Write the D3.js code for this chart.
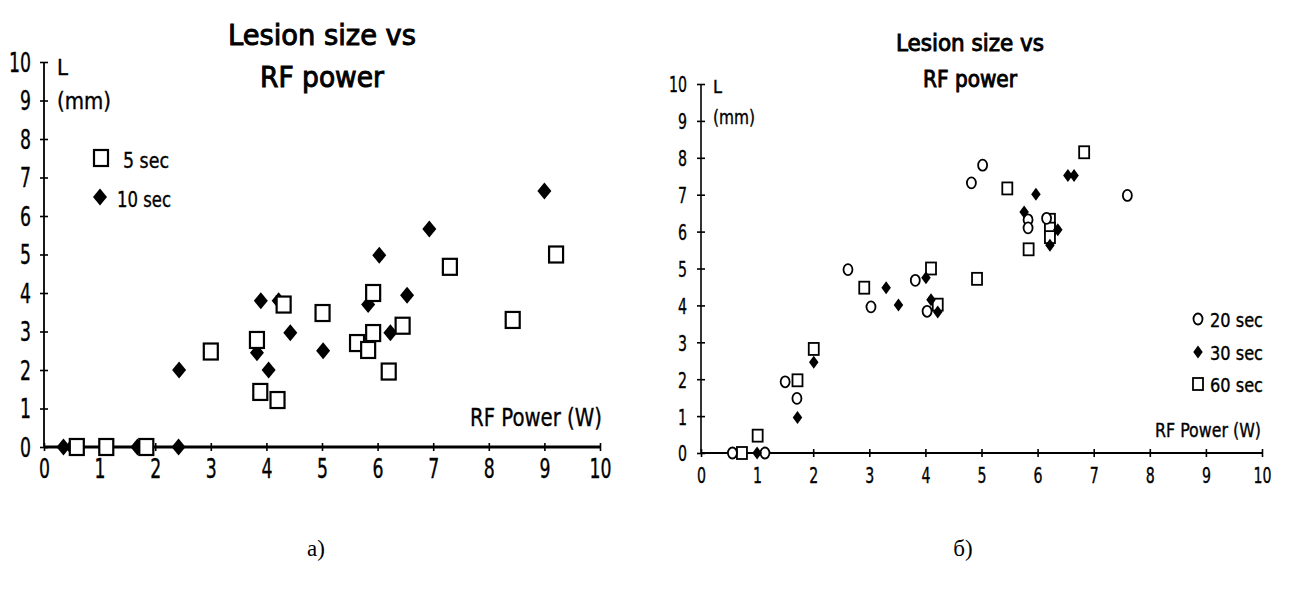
<!DOCTYPE html>
<html lang="ru">
<head>
<meta charset="UTF-8" />
<title>Lesion size vs RF power</title>
<script src="https://cdn.jsdelivr.net/npm/d3@7"></script>
<style>
    body { margin: 0; background: #fff; }
    svg text { font-family: 'DejaVu Sans Condensed', 'DejaVu Sans', sans-serif; font-stretch: condensed; fill: #000; stroke: #000; stroke-width: 0.35px; }
    svg text.title { stroke-width: 0.9px; }
    svg text.caption { font-family: 'Liberation Serif', 'DejaVu Serif', serif; font-stretch: normal; stroke-width: 0; }
</style>
</head>
<body>
<div id="chart"></div>
<script>
// ticks
const ticks = [0, 1, 2, 3, 4, 5, 6, 7, 8, 9, 10]

// panel a) : [power W, lesion mm]
const a5sec = [
    [0.59, 0], [1.12, 0], [1.84, 0], [3.0, 2.48], [3.83, 2.78], [3.89, 1.43], [4.2, 1.22],
    [4.31, 3.7], [5.01, 3.48], [5.63, 2.7], [5.83, 2.52], [5.92, 2.96], [5.92, 4.0],
    [6.2, 1.96], [6.45, 3.15], [7.3, 4.68], [8.43, 3.3], [9.21, 5.0],
]
const a10sec = [
    [0.35, 0], [0.5, 0], [1.68, 0], [2.42, 0], [2.43, 2.0], [3.83, 2.45], [3.9, 3.8],
    [4.04, 2.0], [4.22, 3.8], [4.43, 2.97], [5.02, 2.5], [5.83, 3.7], [6.03, 4.98],
    [6.23, 2.97], [6.53, 3.94], [6.93, 5.66], [9.0, 6.65],
]

// panel б)
const b20sec = [
    [0.56, 0], [1.14, 0], [1.5, 1.93], [1.71, 1.48], [2.62, 4.97], [3.03, 3.96], [3.82, 4.68],
    [4.03, 3.84], [4.82, 7.32], [5.02, 7.8], [5.83, 6.32], [5.83, 6.1], [6.16, 6.36], [7.6, 6.98],
]
const b30sec = [
    [1.0, 0], [1.72, 0.96], [2.01, 2.46], [3.3, 4.48], [3.52, 4.01], [4.01, 4.75], [4.1, 4.15],
    [4.22, 3.82], [5.76, 6.53], [5.97, 7.01], [6.22, 5.63], [6.36, 6.05], [6.54, 7.52], [6.65, 7.52],
]
const b60sec = [
    [0.73, 0], [1.01, 0.47], [1.72, 1.97], [2.01, 2.82], [2.91, 4.48], [4.1, 5.0], [4.22, 4.02],
    [4.92, 4.72], [5.46, 7.17], [5.84, 5.52], [6.22, 6.32], [6.22, 6.08], [6.22, 5.85], [6.83, 8.15],
]

const svg = d3.select('#chart').append('svg').attr('width', 1291).attr('height', 589)

const label = (g, str, x, y, size, anchor, width) => {
    const t = g.append('text').attr('x', x).attr('y', y).attr('font-size', size).attr('text-anchor', anchor).text(str)
    if (width) t.attr('textLength', width).attr('lengthAdjust', 'spacingAndGlyphs')
    return t
}

const drawMarks = (g, data, shape, x, y, m) => {
    const sel = g.append('g').selectAll('.m').data(data).enter()
    if (shape === 'square') {
        sel.append('rect')
            .attr('x', (d) => x(d[0]) - m.sqW / 2)
            .attr('y', (d) => y(d[1]) - m.sqH / 2)
            .attr('width', m.sqW)
            .attr('height', m.sqH)
            .attr('fill', '#fff')
            .attr('stroke', '#000')
            .attr('stroke-width', m.sw)
    } else if (shape === 'circle') {
        sel.append('ellipse')
            .attr('cx', (d) => x(d[0]))
            .attr('cy', (d) => y(d[1]))
            .attr('rx', m.cRx)
            .attr('ry', m.cRy)
            .attr('fill', '#fff')
            .attr('stroke', '#000')
            .attr('stroke-width', m.sw)
    } else {
        const s = m.dH / Math.SQRT2
        sel.append('path')
            .attr('d', d3.symbol(d3.symbolSquare, s * s)())
            .attr('transform', (d) => `translate(${x(d[0])},${y(d[1])}) scale(${m.dW / m.dH},1) rotate(45)`)
            .attr('fill', '#000')
    }
}

const drawPanel = (p) => {
    const g = svg.append('g')
    const x = d3.scaleLinear().domain([0, 10]).range([p.x0, p.x1])
    const y = d3.scaleLinear().domain([0, 10]).range([p.y0, p.y1])

    const xa = g.append('g').attr('transform', `translate(0,${p.y0})`)
        .call(d3.axisBottom(x).tickValues(ticks).tickSize(p.tick).tickPadding(p.xPad).tickFormat(d3.format('d')))
    xa.selectAll('.tick line').attr('y1', -p.tick).attr('stroke-width', 1.6)

    const ya = g.append('g').attr('transform', `translate(${p.x0},0)`)
        .call(d3.axisLeft(y).tickValues(ticks).tickSize(p.tick).tickPadding(p.yPad).tickFormat(d3.format('d')))
    ya.selectAll('.tick line').attr('x1', p.tick).attr('stroke-width', 1.6)

    xa.select('.domain').attr('d', `M${p.x0},0H${p.x1}`).attr('stroke-width', p.xw)
    ya.select('.domain').attr('d', `M0,${p.y0}V${p.y1}`).attr('stroke-width', p.yw)
    g.selectAll('.tick line, .domain').attr('stroke', '#000')
    g.selectAll('.tick text')
        .attr('font-size', p.fs)
        .attr('fill', '#000')
        .attr('textLength', (d) => String(d).length * p.digitW)
        .attr('lengthAdjust', 'spacingAndGlyphs')
    ya.selectAll('.tick text').attr('dy', '0.36em')

    p.series.forEach((s) => drawMarks(g, s.data, s.shape, x, y, p.marks))

    p.texts.forEach((t) => {
        const el = label(g, t[0], t[1], t[2], t[3], t[4], t[5])
        if (t[6]) el.attr('class', t[6])
    })
    p.legend.forEach((l) => {
        drawMarks(g, [[x.invert(l.x), y.invert(l.y)]], l.shape, x, y, p.marks)
    })
}

drawPanel({
    x0: 44, x1: 600, y0: 447, y1: 62, tick: 4, xPad: 9, yPad: 9, fs: 26, digitW: 11, xw: 3.2, yw: 1.8,
    marks: { sqW: 14, sqH: 16, sw: 2.2, dW: 14, dH: 17 },
    series: [
        { data: a10sec, shape: 'diamond' },
        { data: a5sec, shape: 'square' },
    ],
    legend: [
        { shape: 'square', x: 101, y: 158 },
        { shape: 'diamond', x: 100, y: 197 },
    ],
    texts: [
        ['Lesion size vs', 322, 45, 28, 'middle', 188, 'title'],
        ['RF power', 322, 87, 28, 'middle', 124, 'title'],
        ['L', 57, 75, 22, 'start'],
        ['(mm)', 57, 109, 23, 'start', 54],
        ['5 sec', 123, 168, 22, 'start', 46],
        ['10 sec', 117, 207, 22, 'start', 54],
        ['RF Power (W)', 602, 426, 25, 'end', 132],
    ],
})

drawPanel({
    x0: 701, x1: 1262, y0: 453, y1: 84, tick: 4, xPad: 10, yPad: 10, fs: 22, digitW: 9, xw: 2.2, yw: 1.6,
    marks: { sqW: 10, sqH: 12, sw: 1.8, cRx: 4.5, cRy: 5.5, dW: 9.5, dH: 13 },
    series: [
        { data: b60sec, shape: 'square' },
        { data: b20sec, shape: 'circle' },
        { data: b30sec, shape: 'diamond' },
    ],
    legend: [
        { shape: 'circle', x: 1198, y: 319 },
        { shape: 'diamond', x: 1198, y: 352 },
        { shape: 'square', x: 1198, y: 384 },
    ],
    texts: [
        ['Lesion size vs', 970, 51, 23, 'middle', 148, 'title'],
        ['RF power', 970, 87, 23, 'middle', 94, 'title'],
        ['L', 713, 93, 18, 'start'],
        ['(mm)', 713, 124, 19, 'start', 42],
        ['20 sec', 1210, 327, 20, 'start', 53],
        ['30 sec', 1210, 360, 20, 'start', 53],
        ['60 sec', 1210, 392, 20, 'start', 53],
        ['RF Power (W)', 1261, 437, 20, 'end', 106],
    ],
})

label(svg, 'а)', 316, 556, 23, 'middle').attr('class', 'caption')
label(svg, 'б)', 963, 556, 23, 'middle').attr('class', 'caption')
</script>
</body>
</html>
